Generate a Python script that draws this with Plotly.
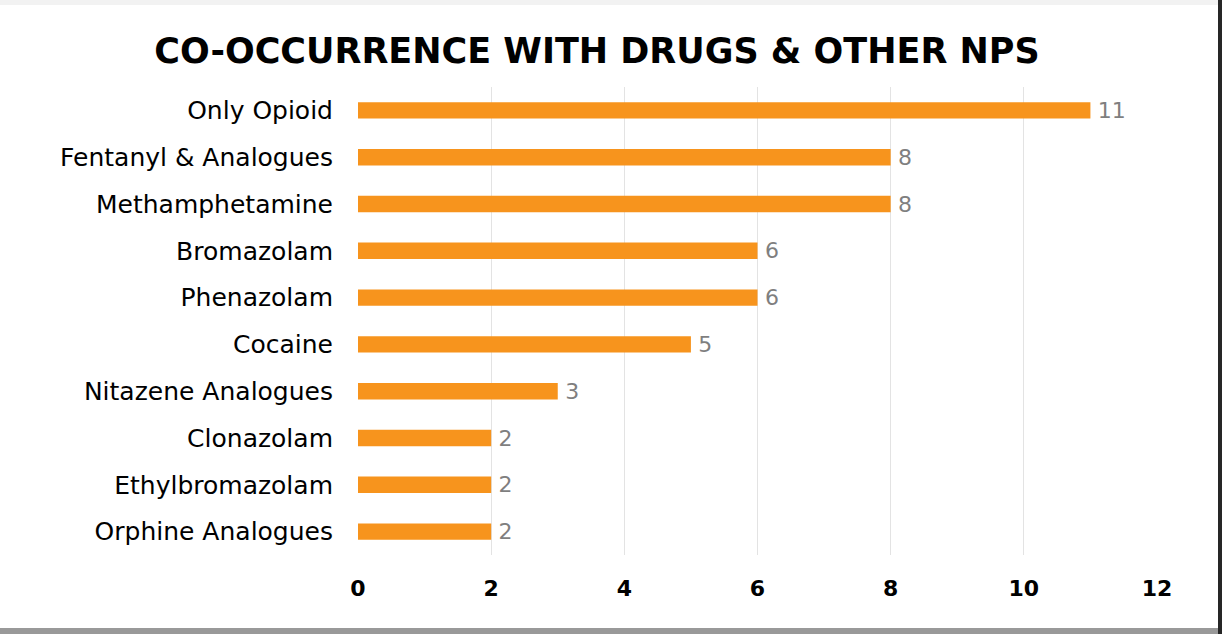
import plotly.graph_objects as go

categories = ["Only Opioid", "Fentanyl & Analogues", "Methamphetamine", "Bromazolam",
              "Phenazolam", "Cocaine", "Nitazene Analogues", "Clonazolam",
              "Ethylbromazolam", "Orphine Analogues"]
values = [11, 8, 8, 6, 6, 5, 3, 2, 2, 2]
x_ticks = [0, 2, 4, 6, 8, 10, 12]

W, H = 1222, 634
L, R, T, B = 358, 65, 87, 79

fig = go.Figure(go.Bar(
    x=values, y=categories, orientation="h",
    marker=dict(color="#F7941D", line=dict(width=0)),
    text=["\u2009" + str(v) for v in values], textposition="outside",
    constraintext="none",
    textfont=dict(family="DejaVu Sans", size=22, color="#7F7F7F", weight=500),
    cliponaxis=False,
))

def px_x(p):
    return (p - L) / (W - L - R)

def px_y(p):
    return 1 - (p - T) / (H - T - B)

shapes = [
    dict(type="rect", xref="paper", yref="paper", x0=px_x(0), x1=px_x(W), y0=px_y(0), y1=px_y(5),
         fillcolor="#F2F2F2", line=dict(width=0), layer="above"),
    dict(type="rect", xref="paper", yref="paper", x0=px_x(0), x1=px_x(W), y0=px_y(628), y1=px_y(H),
         fillcolor="#999999", line=dict(width=0), layer="above"),
    dict(type="rect", xref="paper", yref="paper", x0=px_x(1218), x1=px_x(W), y0=px_y(0), y1=px_y(H),
         fillcolor="#262626", line=dict(width=0), layer="above"),
]

fig.update_layout(
    width=W, height=H,
    margin=dict(l=L, r=R, t=T, b=B),
    paper_bgcolor="white", plot_bgcolor="white",
    bargap=0.65,
    showlegend=False,
    title=dict(text="CO-OCCURRENCE WITH DRUGS & OTHER NPS", x=597 / W, xref="container",
               xanchor="center", y=1 - 51 / H, yref="container", yanchor="middle",
               font=dict(family="DejaVu Sans", size=35, color="black", weight=900)),
    xaxis=dict(range=[0, 12], tickvals=x_ticks, ticktext=[str(t) for t in x_ticks],
               showgrid=True, gridcolor="#E3E3E3", gridwidth=1, zeroline=False,
               showline=False, ticks="", ticklabelstandoff=18,
               tickfont=dict(family="DejaVu Sans", size=22, color="black", weight=600)),
    yaxis=dict(categoryorder="array", categoryarray=categories, autorange="reversed",
               showgrid=False, zeroline=False, showline=False, ticks="",
               ticklabelstandoff=24,
               tickfont=dict(family="DejaVu Sans", size=25, color="black", weight=500)),
    shapes=shapes,
)

fig.write_html("out.html", config={"displayModeBar": False},
               post_script="document.body.style.margin='0';document.body.style.overflow='hidden';")
